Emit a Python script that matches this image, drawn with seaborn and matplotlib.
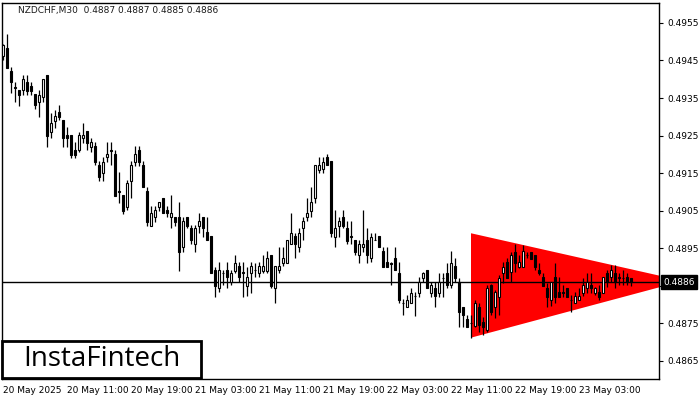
import numpy as np
import pandas as pd
import matplotlib
matplotlib.use("Agg")
import matplotlib.pyplot as plt
import matplotlib.transforms as mtransforms
from matplotlib.patches import Rectangle
import seaborn as sns

# NZDCHF M30 candles
opens = [0.49461, 0.49482, 0.49421, 0.49379, 0.49371, 0.49371, 0.49392, 0.49381, 0.49360, 0.49339,
         0.49352, 0.49410, 0.49259, 0.49288, 0.49312, 0.49291, 0.49251, 0.49251, 0.49211, 0.49211,
         0.49243, 0.49261, 0.49219, 0.49222, 0.49171, 0.49150, 0.49192, 0.49211, 0.49200, 0.49102,
         0.49091, 0.49059, 0.49128, 0.49179, 0.49211, 0.49171, 0.49102, 0.49009, 0.49033, 0.49059,
         0.49083, 0.49051, 0.49033, 0.49033, 0.49033, 0.48953, 0.49033, 0.49003, 0.48961, 0.49009,
         0.49033, 0.48993, 0.48982, 0.48892, 0.48844, 0.48884, 0.48892, 0.48860, 0.48889, 0.48902,
         0.48887, 0.48849, 0.48884, 0.48892, 0.48884, 0.48889, 0.48889, 0.48932, 0.48844, 0.48892,
         0.48910, 0.48910, 0.48961, 0.48982, 0.48953, 0.49003, 0.49033, 0.49049, 0.49083, 0.49158,
         0.49160, 0.49192, 0.49182, 0.48980, 0.49009, 0.49033, 0.49003, 0.48982, 0.48972, 0.48932,
         0.48953, 0.48972, 0.48924, 0.48972, 0.48982, 0.48942, 0.48913, 0.48910, 0.48924, 0.48884,
         0.48804, 0.48793, 0.48804, 0.48823, 0.48831, 0.48871, 0.48892, 0.48831, 0.48844, 0.48831,
         0.48871, 0.48884, 0.48852, 0.48902, 0.48860, 0.48793, 0.48761, 0.48751, 0.48743, 0.48793,
         0.48753, 0.48732, 0.48852, 0.48793, 0.48820, 0.48884, 0.48913, 0.48887, 0.48940, 0.48900,
         0.48900, 0.48932, 0.48940, 0.48932, 0.48892, 0.48873, 0.48844, 0.48812, 0.48873, 0.48833,
         0.48833, 0.48844, 0.48812, 0.48804, 0.48812, 0.48831, 0.48844, 0.48852, 0.48831, 0.48833,
         0.48831, 0.48884, 0.48873, 0.48884, 0.48873, 0.48871, 0.48873, 0.48870]
highs = [0.49493, 0.49520, 0.49432, 0.49392, 0.49371, 0.49410, 0.49410, 0.49392, 0.49360, 0.49371,
         0.49402, 0.49410, 0.49309, 0.49317, 0.49331, 0.49291, 0.49272, 0.49251, 0.49232, 0.49259,
         0.49283, 0.49261, 0.49243, 0.49232, 0.49182, 0.49192, 0.49232, 0.49232, 0.49211, 0.49152,
         0.49091, 0.49131, 0.49182, 0.49222, 0.49222, 0.49182, 0.49113, 0.49062, 0.49062, 0.49073,
         0.49083, 0.49062, 0.49091, 0.49033, 0.49073, 0.49033, 0.49033, 0.49011, 0.49011, 0.49043,
         0.49033, 0.49033, 0.48982, 0.48900, 0.48913, 0.48892, 0.48913, 0.48892, 0.48932, 0.48913,
         0.48913, 0.48900, 0.48913, 0.48910, 0.48913, 0.48932, 0.48942, 0.48932, 0.48902, 0.48953,
         0.48953, 0.48972, 0.49043, 0.48990, 0.49003, 0.49033, 0.49083, 0.49113, 0.49171, 0.49192,
         0.49192, 0.49200, 0.49182, 0.49051, 0.49033, 0.49051, 0.49022, 0.49022, 0.48972, 0.48972,
         0.49051, 0.49003, 0.48990, 0.48990, 0.48982, 0.48953, 0.48953, 0.48913, 0.48953, 0.48913,
         0.48815, 0.48825, 0.48844, 0.48833, 0.48873, 0.48887, 0.48892, 0.48860, 0.48860, 0.48884,
         0.48884, 0.48910, 0.48942, 0.48924, 0.48871, 0.48793, 0.48772, 0.48772, 0.48812, 0.48804,
         0.48767, 0.48852, 0.48855, 0.48839, 0.48879, 0.48913, 0.48924, 0.48940, 0.48961, 0.48932,
         0.48958, 0.48940, 0.48940, 0.48932, 0.48910, 0.48884, 0.48857, 0.48860, 0.48910, 0.48873,
         0.48852, 0.48844, 0.48825, 0.48833, 0.48844, 0.48871, 0.48884, 0.48884, 0.48847, 0.48852,
         0.48873, 0.48892, 0.48905, 0.48905, 0.48884, 0.48892, 0.48884, 0.48870]
lows = [0.49450, 0.49429, 0.49363, 0.49339, 0.49328, 0.49357, 0.49357, 0.49357, 0.49320, 0.49299,
        0.49339, 0.49219, 0.49243, 0.49270, 0.49291, 0.49219, 0.49219, 0.49190, 0.49190, 0.49206,
        0.49230, 0.49211, 0.49206, 0.49171, 0.49128, 0.49128, 0.49179, 0.49171, 0.49089, 0.49070,
        0.49041, 0.49051, 0.49083, 0.49168, 0.49168, 0.49113, 0.49009, 0.49009, 0.49019, 0.49049,
        0.49043, 0.49033, 0.49003, 0.49009, 0.48889, 0.48940, 0.49003, 0.48961, 0.48940, 0.48990,
        0.48980, 0.48972, 0.48884, 0.48820, 0.48833, 0.48852, 0.48844, 0.48852, 0.48884, 0.48860,
        0.48820, 0.48823, 0.48831, 0.48873, 0.48873, 0.48884, 0.48884, 0.48844, 0.48804, 0.48884,
        0.48902, 0.48910, 0.48961, 0.48924, 0.48940, 0.48972, 0.49022, 0.49033, 0.49070, 0.49150,
        0.49150, 0.49171, 0.48980, 0.48953, 0.48980, 0.49003, 0.48961, 0.48961, 0.48932, 0.48910,
        0.48940, 0.48910, 0.48913, 0.48972, 0.48953, 0.48900, 0.48900, 0.48852, 0.48892, 0.48804,
        0.48772, 0.48793, 0.48804, 0.48769, 0.48820, 0.48860, 0.48844, 0.48820, 0.48793, 0.48820,
        0.48820, 0.48844, 0.48844, 0.48860, 0.48740, 0.48740, 0.48740, 0.48711, 0.48740, 0.48727,
        0.48719, 0.48727, 0.48772, 0.48764, 0.48772, 0.48857, 0.48871, 0.48860, 0.48887, 0.48897,
        0.48900, 0.48924, 0.48921, 0.48892, 0.48879, 0.48849, 0.48793, 0.48796, 0.48804, 0.48820,
        0.48820, 0.48820, 0.48780, 0.48804, 0.48812, 0.48823, 0.48831, 0.48831, 0.48825, 0.48812,
        0.48831, 0.48847, 0.48860, 0.48844, 0.48852, 0.48852, 0.48852, 0.48850]
closes = [0.49490, 0.49429, 0.49392, 0.49378, 0.49357, 0.49402, 0.49368, 0.49368, 0.49331, 0.49357,
          0.49402, 0.49248, 0.49283, 0.49301, 0.49299, 0.49243, 0.49243, 0.49198, 0.49198, 0.49251,
          0.49251, 0.49230, 0.49232, 0.49179, 0.49139, 0.49179, 0.49200, 0.49210, 0.49089, 0.49101,
          0.49049, 0.49123, 0.49171, 0.49200, 0.49179, 0.49113, 0.49019, 0.49043, 0.49051, 0.49073,
          0.49043, 0.49043, 0.49043, 0.49019, 0.48940, 0.49022, 0.49009, 0.48972, 0.49003, 0.49022,
          0.49003, 0.48972, 0.48884, 0.48849, 0.48892, 0.48883, 0.48873, 0.48884, 0.48910, 0.48873,
          0.48884, 0.48873, 0.48902, 0.48891, 0.48902, 0.48902, 0.48924, 0.48849, 0.48902, 0.48902,
          0.48924, 0.48972, 0.48990, 0.48961, 0.48990, 0.49022, 0.49043, 0.49073, 0.49171, 0.49171,
          0.49179, 0.49171, 0.48990, 0.49003, 0.49022, 0.49009, 0.48969, 0.48981, 0.48940, 0.48961,
          0.48961, 0.48932, 0.48980, 0.48971, 0.48953, 0.48900, 0.48900, 0.48909, 0.48892, 0.48812,
          0.48803, 0.48812, 0.48831, 0.48822, 0.48860, 0.48884, 0.48844, 0.48852, 0.48823, 0.48860,
          0.48870, 0.48852, 0.48910, 0.48871, 0.48780, 0.48772, 0.48740, 0.48750, 0.48804, 0.48745,
          0.48740, 0.48844, 0.48780, 0.48833, 0.48871, 0.48900, 0.48871, 0.48932, 0.48910, 0.48913,
          0.48942, 0.48931, 0.48921, 0.48900, 0.48884, 0.48849, 0.48820, 0.48860, 0.48820, 0.48820,
          0.48832, 0.48820, 0.48811, 0.48823, 0.48823, 0.48852, 0.48860, 0.48844, 0.48844, 0.48820,
          0.48873, 0.48860, 0.48892, 0.48860, 0.48872, 0.48870, 0.48860, 0.48860]

time_labels = ["20 May 2025", "20 May 11:00", "20 May 19:00", "21 May 03:00", "21 May 11:00",
               "21 May 19:00", "22 May 03:00", "22 May 11:00", "22 May 19:00", "23 May 03:00"]
price_ticks = [0.4865, 0.4875, 0.4885, 0.4895, 0.4905, 0.4915, 0.4925, 0.4935, 0.4945, 0.4955]

# symmetrical triangle pattern (bar index, price)
tri_x = [117, 117, 170]
tri_y = [0.48990, 0.48712, 0.48863]

sns.set_style("white")
plt.rcParams['font.family'] = ['DejaVu Sans']

df = pd.DataFrame({'open': opens, 'high': highs, 'low': lows, 'close': closes})
df['bar'] = np.arange(len(df))
up = df['close'] >= df['open']
last = df['close'].iloc[-1]

fig = plt.figure(figsize=(7, 4), dpi=100)
ax = fig.add_axes([2 / 700, 21 / 400, 657 / 700, 376 / 400])

ax.fill(tri_x, tri_y, color='#ff0000', lw=0, zorder=1)
ax.axhline(last, color='black', lw=1, zorder=2)

ax.vlines(df['bar'], df['low'], df['high'], color='black', lw=0.9, zorder=3)
body_low = np.minimum(df['open'], df['close'])
body_h = np.abs(df['close'] - df['open'])
ax.bar(df['bar'], body_h, bottom=body_low, width=0.55,
       color=np.where(up, 'white', 'black'), edgecolor='black', lw=0.8, zorder=4)

ax.set_xlim(-0.25, 164)
ax.set_ylim(0.48602, 0.49603)

ax.yaxis.tick_right()
ax.set_yticks(price_ticks)
# the 0.4885 label sits under the current price box
ax.set_yticklabels(["" if abs(p - last) < 0.0003 else f"{p:.4f}" for p in price_ticks])
ax.set_xticks(np.arange(len(time_labels)) * 16)
ax.set_xticklabels(time_labels)
for lbl in ax.get_xticklabels():
    lbl.set_ha('left')
ax.tick_params(axis='both', direction='out', length=3, width=0.8, labelsize=6.5,
               colors='black', pad=2)
ax.tick_params(axis='y', pad=3)
for sp in ax.spines.values():
    sp.set_color('black')
    sp.set_linewidth(1)

# current price marker on the price scale
trans = mtransforms.blended_transform_factory(ax.transAxes, ax.transData)
ax.text(1.006, last, f"{last:.4f}", transform=trans,
        color='white', fontsize=6.5, va='center', ha='left', zorder=10, clip_on=False,
        bbox=dict(boxstyle='square,pad=0.25', fc='black', ec='black'))

fig.text(18 / 700, 1 - 11 / 400, "NZDCHF,M30  0.4887 0.4887 0.4885 0.4886",
         fontsize=6.5, color='#1a1a1a', va='center', ha='left')

# logo box
fig.patches.append(Rectangle((2 / 700, 22 / 400), 199 / 700, 37 / 400, transform=fig.transFigure,
                             fc='white', ec='black', lw=2, zorder=20))
fig.text(102 / 700, 1 - 359 / 400, "InstaFintech", fontsize=20, color='black',
         family='Open Sans', weight='medium', ha='center', va='center', zorder=21)

fig.savefig("out.png", dpi=100)
